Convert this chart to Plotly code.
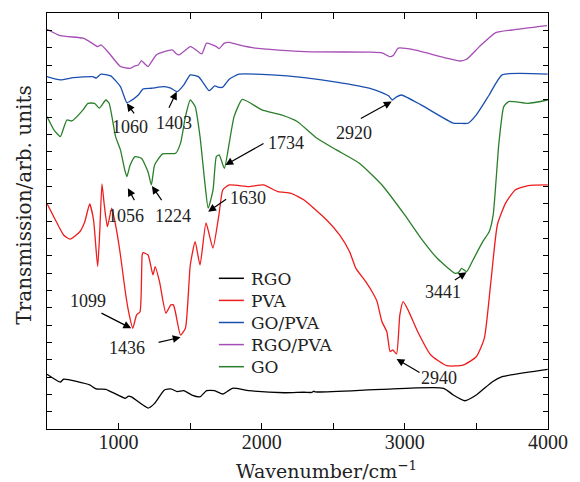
import plotly.graph_objects as go

# ---------------- data ----------------
series_names = ["RGO", "PVA", "GO/PVA", "RGO/PVA", "GO"]
series_colors = ["#000000", "#ee1c1c", "#1a4fb0", "#a64db6", "#2a7f2a"]

rgo_wn = [500, 593, 616, 798, 843, 911, 1047, 1070, 1090, 1206, 1252, 1320, 1365, 1410, 1456, 1512,
          1569, 1615, 1671, 1728, 1796, 1909, 2159, 2296, 2350, 2364, 2374, 2840, 3271, 3339, 3419,
          3499, 3612, 3680, 3998]
rgo_t = [3.16, 2.71, 2.87, 2.54, 2.31, 2.29, 1.77, 1.90, 1.85, 1.21, 1.48, 2.25, 2.31, 2.16, 2.21, 1.96,
         1.86, 2.21, 2.21, 2.02, 2.35, 2.21, 2.09, 2.12, 2.11, 2.19, 2.14, 2.29, 2.35, 1.96, 1.63,
         1.96, 2.73, 3.02, 3.44]

pva_wn = [500, 559, 616, 661, 729, 764, 798, 825, 854, 869, 884, 900, 922, 952, 979, 1013, 1047, 1070,
          1099, 1126, 1150, 1165, 1172, 1206, 1240, 1256, 1286, 1331, 1365, 1383, 1397, 1433, 1467,
          1501, 1535, 1569, 1611, 1659, 1701, 1728, 1773, 1909, 2012, 2114, 2205, 2296, 2454, 2545,
          2614, 2658, 2727, 2784, 2806, 2840, 2874, 2897, 2915, 2942, 2965, 2988, 3022, 3090, 3181,
          3294, 3407, 3499, 3555, 3601, 3646, 3703, 3771, 3861, 3998]
pva_t = [13.01, 12.06, 11.19, 10.95, 11.38, 11.96, 12.98, 12.06, 9.37, 11.48, 14.14, 12.93, 11.67,
         12.74, 11.77, 10.04, 7.92, 6.77, 5.81, 6.58, 6.77, 10.04, 10.17, 10.04, 8.89, 9.37, 8.50,
         6.68, 7.16, 7.16, 6.75, 5.42, 5.81, 9.46, 10.81, 9.46, 11.89, 10.43, 12.35, 13.79, 14.08,
         13.98, 14.08, 13.69, 13.60, 13.21, 12.06, 11.19, 10.23, 9.27, 8.50, 7.73, 7.35, 6.19, 5.61,
         4.46, 4.56, 4.33, 6.58, 7.35, 6.87, 5.61, 4.27, 3.65, 3.69, 4.17, 5.23, 8.50, 11.77, 13.02,
         13.79, 14.04, 14.08]

gopva_wn = [500, 593, 684, 820, 843, 877, 945, 1013, 1058, 1084, 1138, 1172, 1229, 1320, 1365, 1410,
            1456, 1501, 1558, 1592, 1633, 1671, 1703, 1728, 1773, 1841, 2069, 2296, 2522, 2750, 2840,
            2886, 2913, 2942, 2976, 3113, 3339, 3385, 3442, 3499, 3589, 3680, 3998]
gopva_t = [20.33, 20.14, 20.27, 20.33, 20.24, 20.47, 20.37, 19.75, 18.83, 18.93, 19.27, 19.62, 19.66,
           19.75, 19.66, 19.46, 19.85, 20.43, 20.33, 19.97, 19.52, 19.79, 19.71, 19.72, 20.18, 20.47,
           20.43, 20.27, 20.01, 19.66, 19.41, 19.22, 18.98, 19.16, 19.27, 18.70, 17.64, 17.63, 17.64,
           18.12, 19.27, 20.43, 20.47]

rgopva_wn = [500, 593, 752, 798, 854, 877, 934, 1013, 1081, 1115, 1138, 1160, 1184, 1206, 1263, 1320,
             1376, 1399, 1422, 1501, 1524, 1581, 1615, 1683, 1703, 1739, 1773, 1841, 1955, 2296, 2750,
             2840, 2897, 2922, 2954, 3067, 3294, 3385, 3431, 3521, 3635, 3748, 3993]
rgopva_t = [23.06, 22.69, 22.55, 22.35, 22.06, 22.16, 21.68, 20.91, 20.81, 20.95, 21.0, 21.25, 21.06,
            20.91, 21.58, 21.77, 21.87, 21.68, 21.58, 22.06, 21.97, 21.64, 22.26, 22.06, 21.95, 22.26,
            22.31, 22.16, 21.97, 21.77, 21.74, 21.70, 21.48, 21.58, 21.97, 21.87, 21.39, 21.23, 21.33,
            22.06, 22.87, 23.02, 23.27]

go_wn = [500, 548, 593, 616, 639, 673, 752, 786, 832, 866, 911, 934, 979, 1013, 1043, 1058, 1081, 1116,
         1160, 1206, 1229, 1252, 1308, 1399, 1433, 1467, 1501, 1535, 1569, 1603, 1626, 1660, 1683, 1703,
         1739, 1773, 1807, 1865, 2001, 2137, 2250, 2386, 2522, 2682, 2840, 2999, 3113, 3226, 3351, 3378,
         3396, 3431, 3476, 3544, 3589, 3617, 3657, 3691, 3725, 3861, 3998]
go_t = [18.02, 17.26, 16.87, 17.35, 17.83, 17.77, 18.41, 18.79, 18.79, 18.51, 18.98, 18.79, 16.87, 16.10,
        14.95, 14.56, 15.23, 15.71, 15.62, 14.83, 14.08, 15.23, 15.87, 15.91, 16.49, 18.02, 18.98, 18.60,
        16.87, 14.18, 12.74, 13.80, 15.71, 15.81, 15.04, 16.49, 18.02, 19.01, 18.41, 18.12, 17.73, 16.77,
        16.10, 15.33, 14.08, 12.35, 11.00, 9.85, 8.98, 9.06, 9.27, 9.08, 9.75, 10.81, 11.38, 12.35, 16.49,
        18.60, 18.89, 18.79, 18.98]

x_major_step = 1000
x_minor_step = 500

# peak labels: text, arrow tip (wn, T), arrow tail (wn, T), label centre (wn, T)
peak_labels = [
    ("1060", (1058, 18.79), (1116, 18.12), (1081, 17.44)),
    ("1403", (1406, 19.46), (1347, 18.45), (1388, 17.64)),
    ("1056", (1065, 13.89), (1116, 13.12), (1053, 12.29)),
    ("1224", (1233, 14.02), (1308, 13.12), (1380, 12.29)),
    ("1734", (1746, 15.23), (2023, 16.52), (2171, 16.49)),
    ("1630", (1626, 12.54), (1762, 13.31), (1905, 13.31)),
    ("2920", (2908, 18.89), (2682, 17.87), (2648, 17.06)),
    ("3441", (3431, 9.04), (3339, 8.54), (3267, 7.89)),
    ("2940", (2942, 4.04), (3113, 3.21), (3237, 2.93)),
    ("1099", (1088, 5.81), (870, 6.73), (786, 7.39)),
    ("1436", (1433, 5.29), (1269, 4.98), (1058, 4.66)),
]

all_x = [rgo_wn, pva_wn, gopva_wn, rgopva_wn, go_wn]
all_y = [rgo_t, pva_t, gopva_t, rgopva_t, go_t]

NUM_FONT = "Liberation Serif"
TXT_FONT = "DejaVu Serif"

fig = go.Figure()
for name, color, xs, ys in zip(series_names, series_colors, all_x, all_y):
    fig.add_trace(go.Scatter(x=xs, y=ys, name=name, mode="lines",
                             line=dict(color=color, width=1.3, shape="spline", smoothing=0.5),
                             showlegend=False))

annotations = []
for text, tip, tail, pos in peak_labels:
    annotations.append(dict(x=tip[0], y=tip[1], ax=tail[0], ay=tail[1], axref="x", ayref="y",
                            xref="x", yref="y", text="", showarrow=True, arrowhead=2,
                            arrowsize=1.3, arrowwidth=1.2, arrowcolor="black",
                            standoff=0, startstandoff=0))
    annotations.append(dict(x=pos[0], y=pos[1], xref="x", yref="y", text=text, showarrow=False,
                            font=dict(family=NUM_FONT, size=18, color="#222")))

# legend: one multi-line text block plus coloured line samples (paper space)
LEG_FONT_SIZE = 17
leg_row_px = LEG_FONT_SIZE * 1.3          # plotly line spacing
plot_h_px = 482 - 13 - 53
leg_center_y = 0.256                      # paper y of the block centre
leg_x0, leg_x1, leg_tx = 0.343, 0.393, 0.403
shapes = []
n = len(series_names)
for i, color in enumerate(series_colors):
    yy = leg_center_y + ((n - 1) / 2 - i) * leg_row_px / plot_h_px
    shapes.append(dict(type="line", xref="paper", yref="paper", x0=leg_x0, x1=leg_x1, y0=yy, y1=yy,
                       line=dict(color=color, width=1.5)))
annotations.append(dict(x=leg_tx, y=leg_center_y, xref="paper", yref="paper",
                        text="<br>".join(series_names), showarrow=False, align="left",
                        xanchor="left", yanchor="middle",
                        font=dict(family=TXT_FONT, size=LEG_FONT_SIZE, color="#222")))

# axis titles
annotations.append(dict(x=0.5576, y=-0.0986, xref="paper", yref="paper",
                        text="Wavenumber/cm<sup>−1</sup>", showarrow=False,
                        xanchor="center", yanchor="middle",
                        font=dict(family=TXT_FONT, size=19, color="#222")))
annotations.append(dict(x=-0.045, y=0.538, xref="paper", yref="paper",
                        text="Transmission/arb. units", showarrow=False, textangle=-90,
                        xanchor="center", yanchor="middle",
                        font=dict(family=TXT_FONT, size=20, color="#222")))

fig.update_layout(
    width=580, height=482,
    margin=dict(l=47, r=21, t=13, b=53),
    paper_bgcolor="white", plot_bgcolor="white",
    annotations=annotations, shapes=shapes,
    showlegend=False,
)
fig.update_xaxes(range=[500, 4000], tick0=0, dtick=x_major_step,
                 ticks="inside", ticklen=6, tickwidth=1, tickcolor="black",
                 minor=dict(dtick=x_minor_step, tick0=0, ticks="inside", ticklen=6,
                            tickwidth=1, tickcolor="black", showgrid=False),
                 showline=True, linecolor="black", linewidth=1.3, mirror="ticks",
                 showgrid=False, zeroline=False, ticklabelstandoff=-5,
                 tickfont=dict(family=NUM_FONT, size=20, color="#222"))
fig.update_yaxes(range=[0, 24], tick0=0, dtick=1, showticklabels=False,
                 ticks="inside", ticklen=5, tickwidth=1, tickcolor="black",
                 showline=True, linecolor="black", linewidth=1.3, mirror="ticks",
                 showgrid=False, zeroline=False)

fig.write_html("out.html")
